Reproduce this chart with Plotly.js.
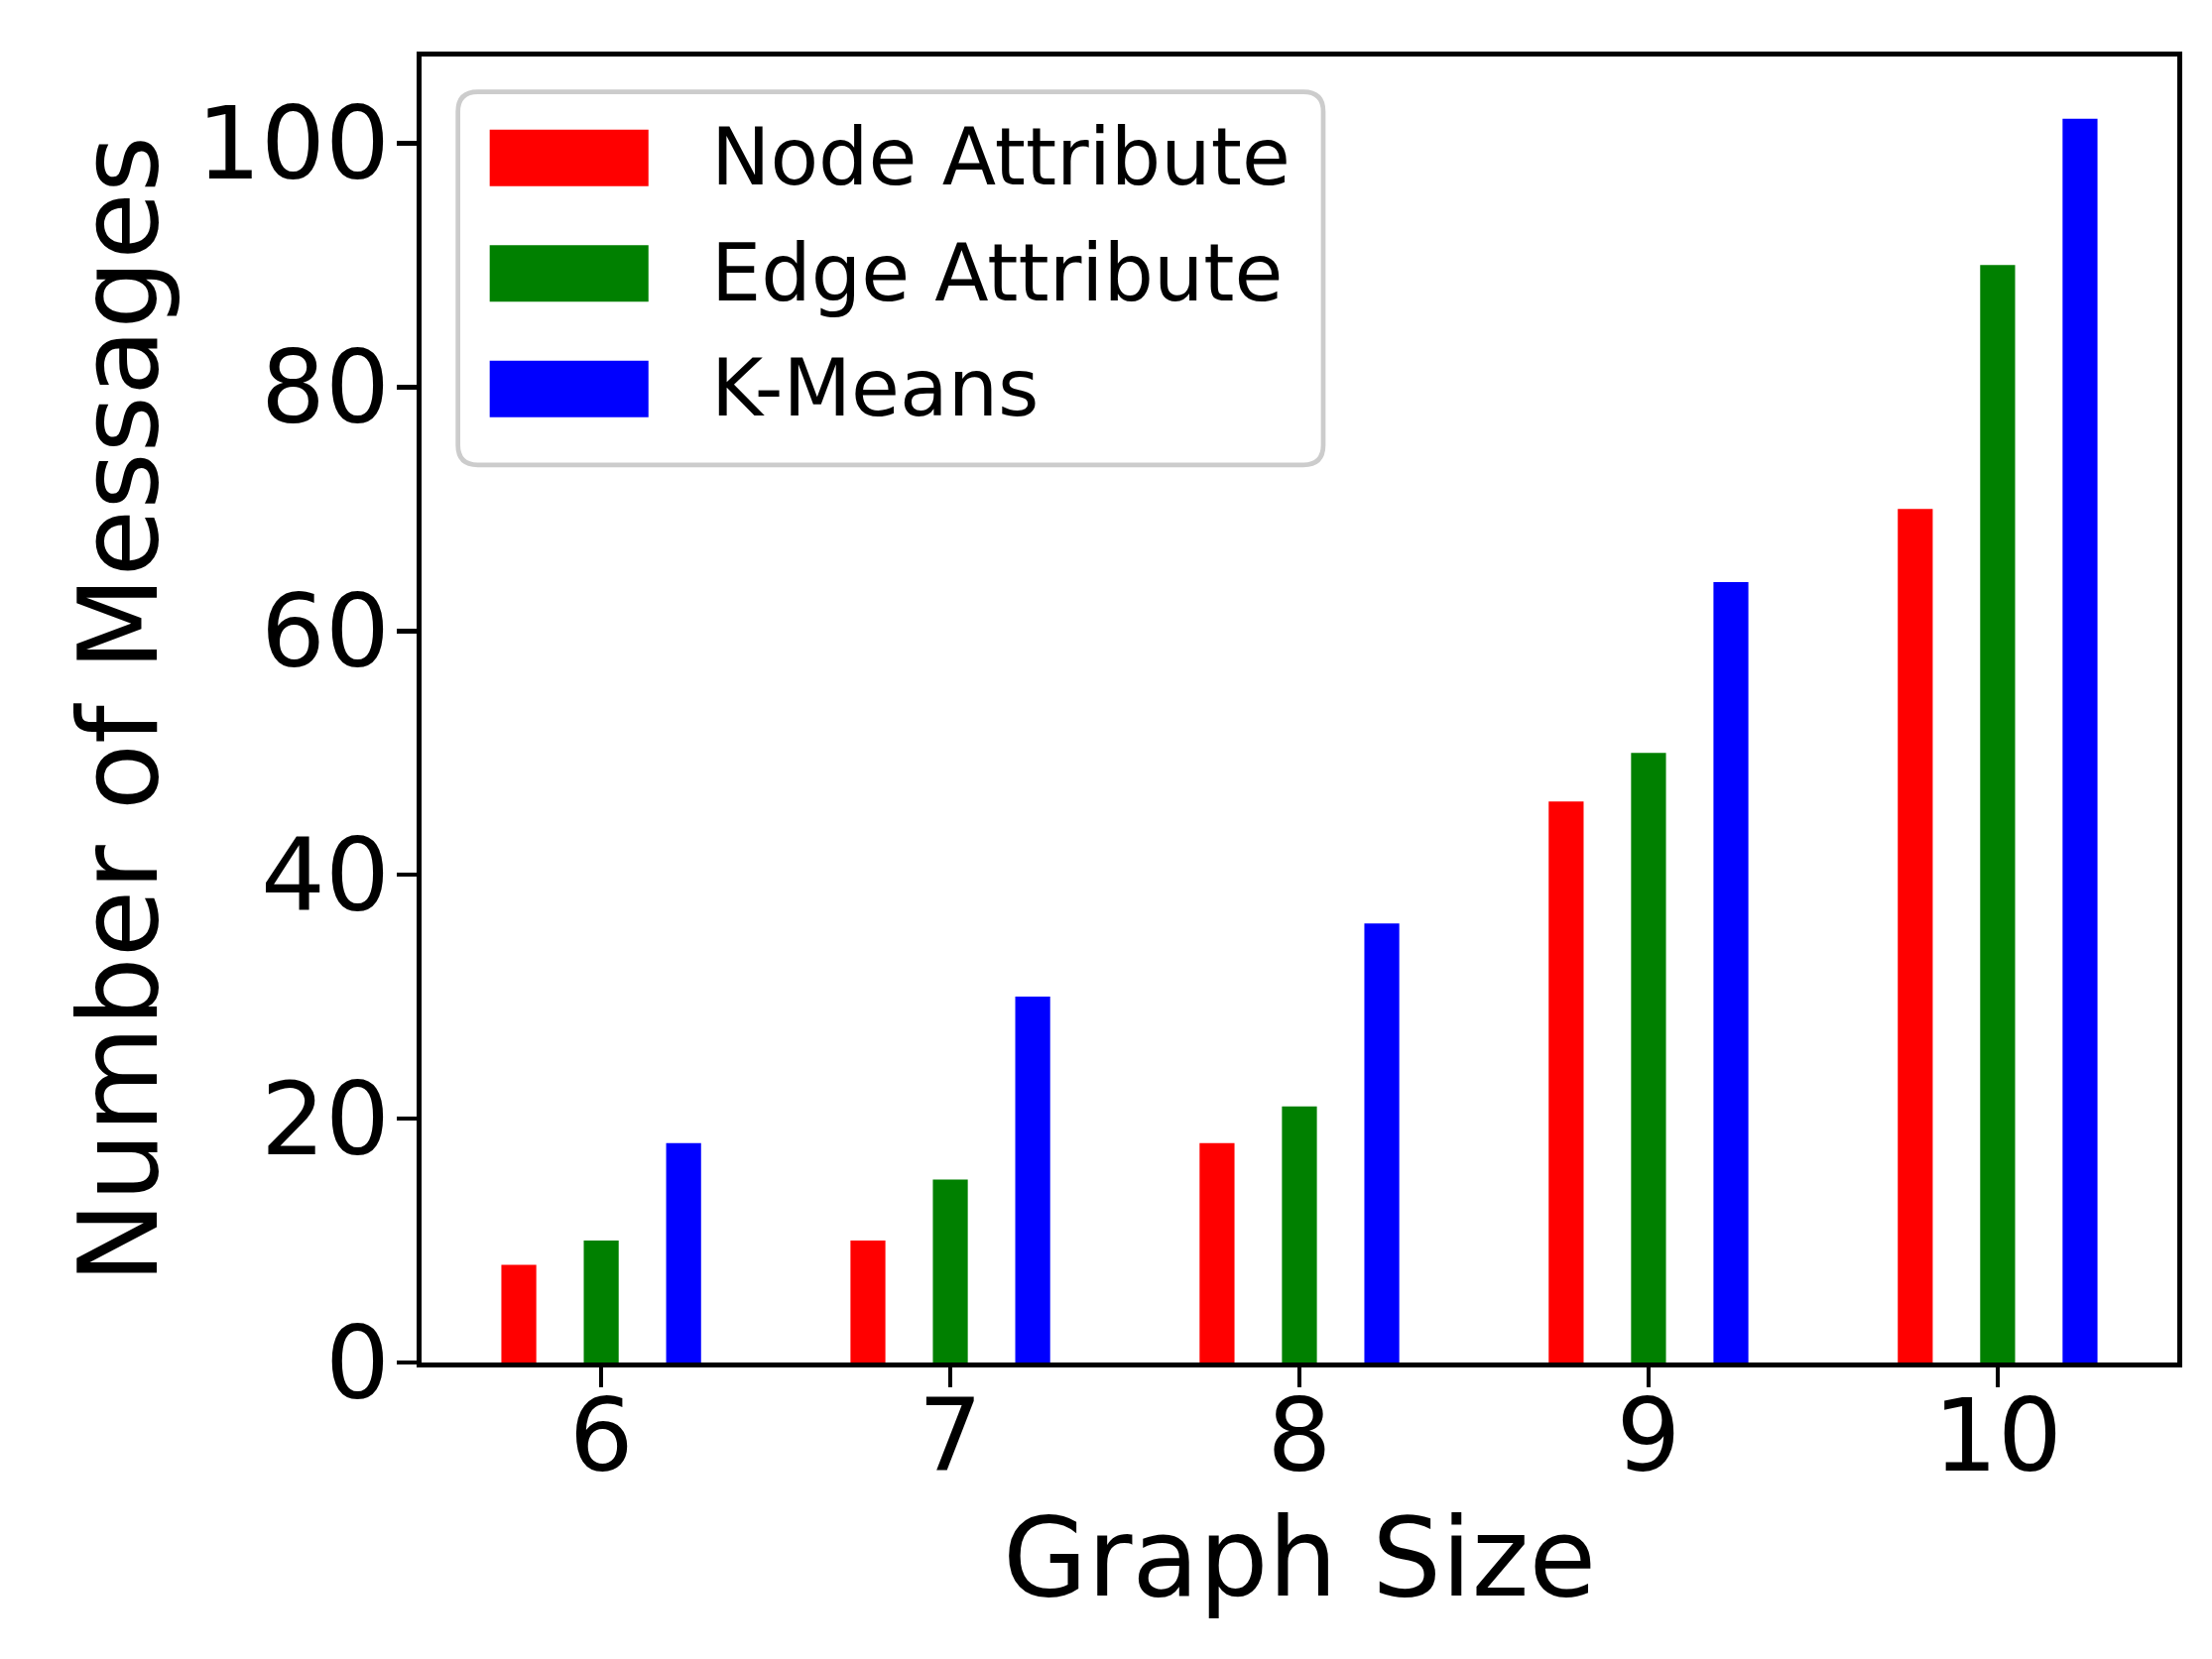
<!DOCTYPE html>
<html>
<head>
<meta charset="utf-8">
<script src="https://cdn.plot.ly/plotly-3.0.1.min.js"></script>
<style>html,body{margin:0;padding:0;background:#fff}</style>
</head>
<body>
<div id="chart" style="width:2230px;height:1673px"></div>
<script>
// values
const graphSizes = [6, 7, 8, 9, 10]
const nodeAttribute = [8, 10, 18, 46, 70]
const edgeAttribute = [10, 15, 21, 50, 90]
const kMeans = [18, 30, 36, 64, 102]
const seriesNames = ["Node Attribute", "Edge Attribute", "K-Means"]
const seriesColors = ["#ff0000", "#008000", "#0000ff"]
const yTicks = [0, 20, 40, 60, 80, 100]

const W = 2230, H = 1673
const lw = 4.7
// spine centres in the reference, plotly draws its lines just outside the plot box
const spineL = 423, spineR = 2197, spineT = 55, spineB = 1376
const plotL = spineL + lw/2, plotR = spineR - lw/2, plotT = spineT + lw/2, plotB = spineB - lw/2
const font = "DejaVu Sans"

// pixel -> paper helpers, used for the hand drawn legend
function px(x){ return (x - plotL)/(plotR - plotL) }
function py(y){ return (plotB - y)/(plotB - plotT) }

function roundRect(x0, y0, x1, y1, r){
    const
        rx = r/(plotR - plotL),
        ry = r/(plotB - plotT),
        a = px(x0), b = px(x1), top = py(y0), bot = py(y1)
    return "M" + (a + rx) + "," + top +
        " L" + (b - rx) + "," + top +
        " Q" + b + "," + top + " " + b + "," + (top - ry) +
        " L" + b + "," + (bot + ry) +
        " Q" + b + "," + bot + " " + (b - rx) + "," + bot +
        " L" + (a + rx) + "," + bot +
        " Q" + a + "," + bot + " " + a + "," + (bot + ry) +
        " L" + a + "," + (top - ry) +
        " Q" + a + "," + top + " " + (a + rx) + "," + top + " Z"
}

function plot(){
    const
        series = [nodeAttribute, edgeAttribute, kMeans],
        data = [],
        shapes = [],
        annotations = []

    for (let i = 0; i < series.length; i++){
        data.push({
            type: "bar",
            x: graphSizes,
            y: series[i],
            name: seriesNames[i],
            marker: {color: seriesColors[i], line: {width: 0}},
            hoverinfo: "skip"
        })
    }

    // legend frame
    shapes.push({
        type: "path",
        xref: "paper", yref: "paper",
        path: roundRect(462, 93, 1334, 469, 20),
        fillcolor: "rgba(255,255,255,0.8)",
        line: {color: "#cccccc", width: lw},
        layer: "above"
    })

    for (let i = 0; i < seriesNames.length; i++){
        const top = 131 + i*116.5
        shapes.push({
            type: "rect",
            xref: "paper", yref: "paper",
            x0: px(494), x1: px(654),
            y0: py(top), y1: py(top + 57),
            fillcolor: seriesColors[i],
            line: {width: 0},
            layer: "above"
        })
        annotations.push({
            xref: "paper", yref: "paper",
            x: px(715), y: py(top + 28),
            xanchor: "left", yanchor: "middle",
            text: seriesNames[i],
            showarrow: false,
            font: {family: font, size: 79.5, color: "#000"}
        })
    }

    const axisCommon = {
        showline: true,
        linecolor: "#000",
        linewidth: lw,
        mirror: true,
        showgrid: false,
        zeroline: false,
        ticks: "outside",
        ticklen: 20,
        tickwidth: lw,
        tickcolor: "#000",
        tickfont: {family: font, size: 102, color: "#000"},
        automargin: false
    }

    const layout = {
        width: W,
        height: H,
        margin: {l: plotL, r: W - plotR, t: plotT, b: H - plotB, pad: 0},
        paper_bgcolor: "#fff",
        plot_bgcolor: "#fff",
        showlegend: false,
        barmode: "group",
        bargap: 0.292,
        bargroupgap: 0.576,
        font: {family: font, color: "#000"},
        xaxis: Object.assign({}, axisCommon, {
            range: [5.4854, 10.5146],
            tickvals: graphSizes,
            ticktext: graphSizes.map(String),
            ticklabelstandoff: -38,
            title: {text: "Graph Size", font: {family: font, size: 110, color: "#000"}, standoff: 26}
        }),
        yaxis: Object.assign({}, axisCommon, {
            range: [0, 107.1],
            tickvals: yTicks,
            ticktext: yTicks.map(String),
            ticklabelstandoff: -13,
            title: {text: "Number of Messages", font: {family: font, size: 110, color: "#000"}, standoff: 4}
        }),
        shapes: shapes,
        annotations: annotations
    }

    Plotly.newPlot("chart", data, layout, {displayModeBar: false, staticPlot: true})
}

plot()
</script>
</body>
</html>
